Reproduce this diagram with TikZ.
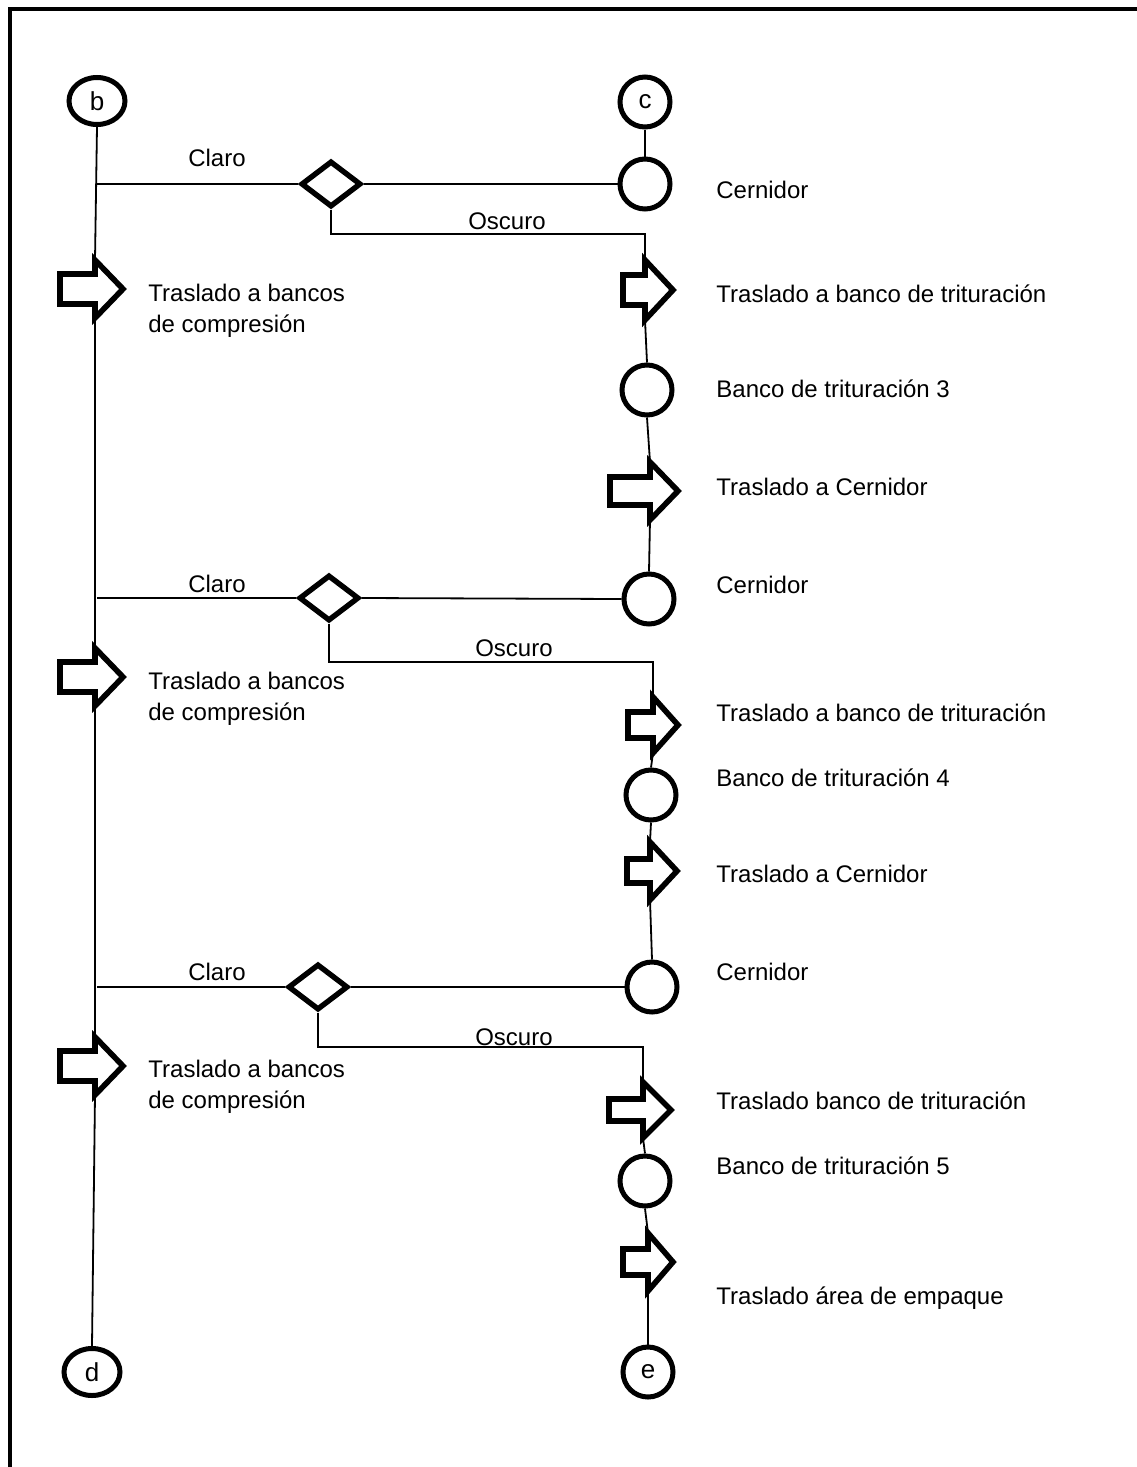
\documentclass[tikz,border=0pt]{standalone}
\usepackage{fontspec}
\setmainfont{Liberation Sans}
\usetikzlibrary{shapes.geometric}

% Block arrow for a transport step: name, tail-left x, head-base x, tip x,
% centre y, tail half-height, head half-height.  Defines (name-in) and
% (name-out) at the upper and lower corners of the head.
\newcommand{\moveshape}[7]{%
  \draw[movebox] (#2,#5-#6) -- (#3,#5-#6) -- (#3,#5-#7) -- (#4,#5)
    -- (#3,#5+#7) -- (#3,#5+#6) -- (#2,#5+#6) -- cycle;
  \coordinate (#1-in) at (#3,#5-#7);
  \coordinate (#1-out) at (#3,#5+#7);}

\begin{document}
\begin{tikzpicture}[x=0.5pt,y=-0.5pt,
  conn/.style={line width=0.9pt},
  station/.style={circle,draw,line width=2.5pt,minimum size=25pt,inner sep=0pt,
    font=\fontsize{13}{15}\selectfont},
  linkmark/.style={ellipse,draw,line width=2.5pt,minimum width=28pt,minimum height=23.5pt,
    inner sep=0pt,font=\fontsize{13}{15}\selectfont},
  decision/.style={diamond,draw,line width=2.7pt,minimum width=30pt,minimum height=23pt,
    inner sep=0pt},
  movebox/.style={draw,fill=white,line width=2.8pt,line join=miter},
  lbl/.style={font=\fontsize{12}{15.5}\selectfont,inner sep=0pt},
]
\useasboundingbox (0,0) rectangle (1136,1467);

% frame
\draw[line width=2pt] (10,1480) -- (10,9) -- (1150,9);

% connectors between sheets
\node[linkmark] (b) at (97,101) {b};
\node[station] (c) at (645,102) {c};
\node[linkmark] (d) at (92,1372) {d};
\node[station] (e) at (648,1372) {e};

% left column: transport to compression benches
\moveshape{L1}{60}{95}{123}{289}{15}{29}
\moveshape{L2}{60}{95}{123}{677}{15}{29}
\moveshape{L3}{60}{95}{123}{1066}{15}{29}

% right column
\node[station] (cer1) at (645,184) {};
\node[station] (ban3) at (647,390) {};
\node[station] (cer2) at (649,599) {};
\node[station] (ban4) at (651,795) {};
\node[station] (cer3) at (652,987) {};
\node[station] (ban5) at (645,1181) {};

\moveshape{R1}{623}{645}{673}{290}{15}{30}
\moveshape{R2}{610}{650}{678}{491}{14}{29}
\moveshape{R3}{628}{653}{678}{725}{13}{28}
\moveshape{R4}{627}{650}{677}{871}{12}{29}
\moveshape{R5}{609}{643}{671}{1110}{11}{28}
\moveshape{R6}{623}{648}{673}{1262}{13}{29}

% decisions
\node[decision] (dia1) at (331,184) {};
\node[decision] (dia2) at (329,598) {};
\node[decision] (dia3) at (318,987) {};

% left spine
\draw[conn] (b.south) -- (L1-in);
\draw[conn] (L1-out) -- (L2-in);
\draw[conn] (L2-out) -- (L3-in);
\draw[conn] (L3-out) -- (d.north);

% right chain
\draw[conn] (c.south) -- (cer1.north);
\draw[conn] (R1-out) -- (ban3.north);
\draw[conn] (ban3.south) -- (R2-in);
\draw[conn] (R2-out) -- (cer2.north);
\draw[conn] (R3-out) -- (ban4.north);
\draw[conn] (ban4.south) -- (R4-in);
\draw[conn] (R4-out) -- (cer3.north);
\draw[conn] (R5-out) -- (ban5.north);
\draw[conn] (ban5.south) -- (R6-in);
\draw[conn] (R6-out) -- (e.north);

% sieve -> decision -> branches
\draw[conn] (cer1.west) -- (dia1.east);
\draw[conn] (dia1.west) -- (dia1.west -| b.south);
\draw[conn] (dia1.south) -- ++(0,24) -| (R1-in);

\draw[conn] (cer2.west) -- (dia2.east);
\draw[conn] (dia2.west) -- (dia2.west -| b.south);
\draw[conn] (dia2.south) -- ++(0,38) -| (R3-in);

\draw[conn] (cer3.west) -- (dia3.east);
\draw[conn] (dia3.west) -- (dia3.west -| b.south);
\draw[conn] (dia3.south) -- ++(0,34) -| (R5-in);

% branch labels
\node[lbl,anchor=base] (cl1) at (217,166) {Claro};
\node[lbl,anchor=base] (cl2) at (217,592) {Claro};
\node[lbl,anchor=base] (cl3) at (217,980) {Claro};
\node[lbl,anchor=base] (os1) at (507,229) {Oscuro};
\node[lbl,anchor=base] (os2) at (514,656) {Oscuro};
\node[lbl,anchor=base] (os3) at (514,1045) {Oscuro};

% step descriptions, left
\node[lbl,anchor=west,align=left] (tl1) at (148,311) {Traslado a bancos\\de compresión};
\node[lbl,anchor=west,align=left] (tl2) at (148,699) {Traslado a bancos\\de compresión};
\node[lbl,anchor=west,align=left] (tl3) at (148,1087) {Traslado a bancos\\de compresión};

% step descriptions, right
\node[lbl,anchor=base west] (t1) at (716,198) {Cernidor};
\node[lbl,anchor=base west] (t2) at (716,302) {Traslado a banco de trituración};
\node[lbl,anchor=base west] (t3) at (716,397) {Banco de trituración 3};
\node[lbl,anchor=base west] (t4) at (716,495) {Traslado a Cernidor};
\node[lbl,anchor=base west] (t5) at (716,593) {Cernidor};
\node[lbl,anchor=base west] (t6) at (716,721) {Traslado a banco de trituración};
\node[lbl,anchor=base west] (t7) at (716,786) {Banco de trituración 4};
\node[lbl,anchor=base west] (t8) at (716,882) {Traslado a Cernidor};
\node[lbl,anchor=base west] (t9) at (716,980) {Cernidor};
\node[lbl,anchor=base west] (t10) at (716,1109) {Traslado banco de trituración};
\node[lbl,anchor=base west] (t11) at (716,1174) {Banco de trituración 5};
\node[lbl,anchor=base west] (t12) at (716,1304) {Traslado área de empaque};
\end{tikzpicture}
\end{document}
